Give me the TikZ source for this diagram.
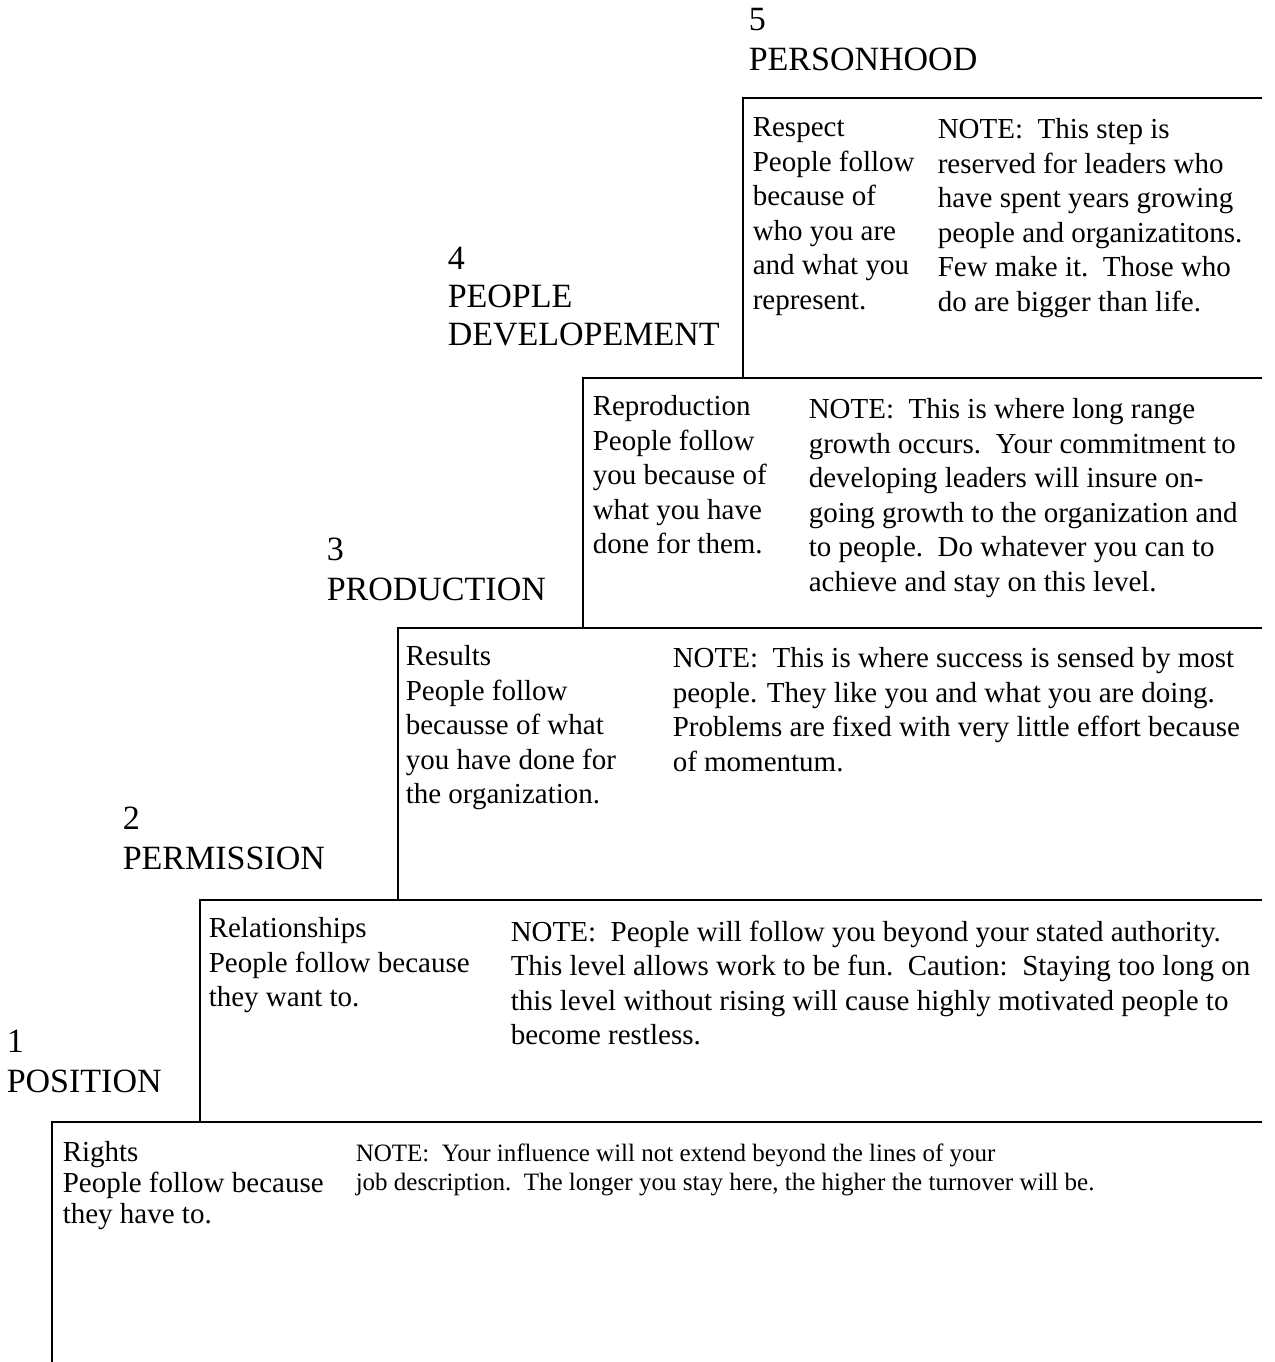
\documentclass[tikz,border=0pt]{standalone}
\usepackage{fontspec}
\setmainfont{Liberation Serif}
\tikzset{every picture/.style={line width=1.5pt}}
\tikzset{levelname/.style={anchor=north west,inner sep=0,align=left,font=\fontsize{34}{40}\selectfont},
  stepbody/.style={anchor=north west,inner sep=0,align=left,font=\fontsize{29}{34.5}\selectfont},
  smallnote/.style={anchor=north west,inner sep=0,align=left,font=\fontsize{25}{29}\selectfont}}

\begin{document}
\begin{tikzpicture}[x=1pt,y=1pt,yscale=-1,xscale=1]
\useasboundingbox (0,0) rectangle (1274,1362);

%Straight Lines: step 5
\draw (743,378) -- (743,98) -- (1262,98) ;
%Straight Lines: step 4
\draw (583,628) -- (583,378) -- (1262,378) ;
%Straight Lines: step 3
\draw (398,900) -- (398,628) -- (1262,628) ;
%Straight Lines: step 2
\draw (200,1122) -- (200,900) -- (1262,900) ;
%Straight Lines: step 1
\draw (52,1362) -- (52,1122) -- (1262,1122) ;

% Text Node
\draw (748,7) node [levelname] (lvl5) {5\\PERSONHOOD};
% Text Node
\draw (752,117) node [stepbody] (why5) {Respect\\People follow\\because of\\who you are\\and what you\\represent.};
% Text Node
\draw (937,118) node [stepbody] (note5) {NOTE:\ \ This step is\\reserved for leaders who\\have spent years growing\\people and organizatitons.\\Few make it.\ \ Those who\\do are bigger than life.};

% Text Node
\draw (447,246) node [levelname,font=\fontsize{34}{38}\selectfont] (lvl4) {4\\PEOPLE\\DEVELOPEMENT};
% Text Node
\draw (592,395) node [stepbody] (why4) {Reproduction\\People follow\\you because of\\what you have\\done for them.};
% Text Node
\draw (808,398) node [stepbody] (note4) {NOTE:\ \ This is where long range\\growth occurs.\ \ Your commitment to\\developing leaders will insure on-\\going growth to the organization and\\to people.\ \ Do whatever you can to\\achieve and stay on this level.};

% Text Node
\draw (326,537) node [levelname] (lvl3) {3\\PRODUCTION};
% Text Node
\draw (405,645) node [stepbody] (why3) {Results\\People follow\\becausse of what\\you have done for\\the organization.};
% Text Node
\draw (672,647) node [stepbody] (note3) {NOTE:\ \ This is where success is sensed by most\\people. They like you and what you are doing.\\Problems are fixed with very little effort because\\of momentum.};

% Text Node
\draw (122,806) node [levelname] (lvl2) {2\\PERMISSION};
% Text Node
\draw (208,917) node [stepbody] (why2) {Relationships\\People follow because\\they want to.};
% Text Node
\draw (510,920) node [stepbody] (note2) {NOTE:\ \ People will follow you beyond your stated authority.\\This level allows work to be fun.\ \ Caution:\ \ Staying too long on\\this level without rising will cause highly motivated people to\\become restless.};

% Text Node
\draw (6,1029) node [levelname] (lvl1) {1\\POSITION};
% Text Node
\draw (62,1141) node [stepbody,font=\fontsize{29}{31}\selectfont] (why1) {Rights\\People follow because\\they have to.};
% Text Node
\draw (355,1143) node [smallnote] (note1) {NOTE:\ \ Your influence will not extend beyond the lines of your\\job description.\ \ The longer you stay here, the higher the turnover will be.};

\end{tikzpicture}
\end{document}
